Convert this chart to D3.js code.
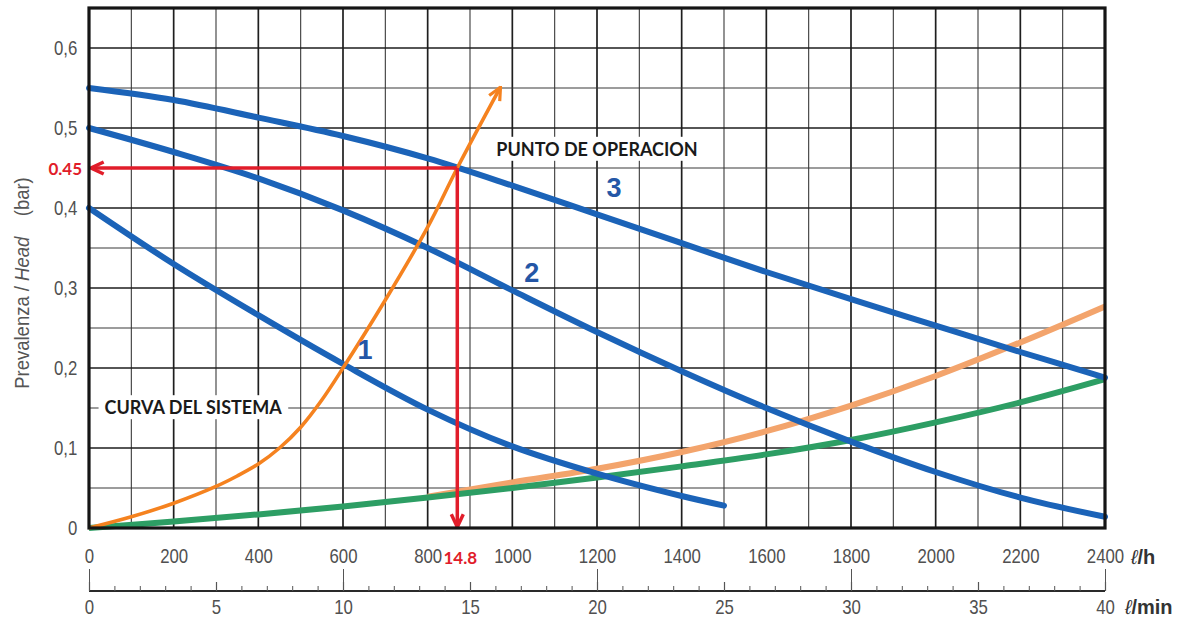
<!DOCTYPE html>
<html>
<head>
<meta charset="utf-8">
<script src="https://cdn.jsdelivr.net/npm/d3@7"></script>
<style>
  body { margin: 0; background: #fff; }
  svg { display: block; }
  .tick text { font-family: "Liberation Sans", Arial, sans-serif; fill: #505050; }
</style>
</head>
<body>
<div id="chart-area"></div>
<script>
// pump curves (flow in l/h, head in bar)
const pumpFlow = [0, 200, 400, 600, 800, 1000, 1200, 1400, 1600, 1800, 2000, 2200, 2400]
const pump3Head = [0.55, 0.535, 0.513, 0.49, 0.462, 0.428, 0.392, 0.356, 0.32, 0.286, 0.253, 0.22, 0.188]
const pump2Head = [0.5, 0.47, 0.437, 0.397, 0.35, 0.297, 0.245, 0.196, 0.15, 0.108, 0.07, 0.038, 0.014]
const greenHead = [0, 0.008, 0.017, 0.027, 0.038, 0.05, 0.063, 0.077, 0.092, 0.11, 0.132, 0.157, 0.186]

const pump1Flow = [0, 200, 400, 600, 800, 1000, 1200, 1400, 1500]
const pump1Head = [0.4, 0.33, 0.266, 0.205, 0.148, 0.102, 0.068, 0.04, 0.028]

const paleFlow = [800, 1000, 1200, 1400, 1600, 1800, 2000, 2200, 2400]
const paleHead = [0.039, 0.057, 0.074, 0.095, 0.121, 0.153, 0.19, 0.232, 0.277]

// system curve (orange, with arrow)
const sysFlow = [0, 100, 200, 300, 350, 400, 450, 500, 550, 600, 700, 800, 870, 972]
const sysHead = [0, 0.014, 0.031, 0.052, 0.065, 0.08, 0.1, 0.126, 0.16, 0.2, 0.285, 0.376, 0.45, 0.551]

// operating point
const opFlow = 870
const opHead = 0.45
const opHeadLabel = "0.45"
const opFlowLabel = "14.8"

const flowTicks = d3.range(0, 2401, 200)
const minTicks = d3.range(0, 41, 5)
const headTicks = [0, 0.1, 0.2, 0.3, 0.4, 0.5, 0.6]
const curveNames = ["1", "2", "3"]

const BLUE = "#1b63b8"
const ORANGE = "#f5821f"
const PALE = "#f3a46c"
const GREEN = "#2d9e64"
const RED = "#e11d2a"

const svg = d3.select("#chart-area").append("svg")
    .attr("width", 1185)
    .attr("height", 624)

const x = d3.scaleLinear().domain([0, 2400]).range([89, 1105])
const xMin = d3.scaleLinear().domain([0, 40]).range([89, 1105])
const y = d3.scaleLinear().domain([0, 0.65]).range([528, 8])

// markers
const defs = svg.append("defs")
function marker(id, color, size, sw) {
    defs.append("marker")
        .attr("id", id)
        .attr("viewBox", "0 0 12 12")
        .attr("refX", 11).attr("refY", 6)
        .attr("markerWidth", size).attr("markerHeight", size)
        .attr("markerUnits", "userSpaceOnUse")
        .attr("orient", "auto")
        .append("path")
        .attr("d", "M1.5,1.5 L11,6 L1.5,10.5")
        .attr("fill", "none")
        .attr("stroke", color)
        .attr("stroke-width", sw)
}
marker("arrRed", RED, 16, 2.6)
marker("arrOrange", ORANGE, 16, 2.4)

// grid
const grid = svg.append("g")
grid.selectAll("line.v")
    .data(d3.range(100, 2400, 100))
    .enter().append("line")
    .attr("x1", d => x(d)).attr("x2", d => x(d))
    .attr("y1", y(0.65)).attr("y2", y(0))
    .attr("stroke", d => d % 200 === 0 ? "#1e1e1e" : "#3a3a3a")
    .attr("stroke-width", d => d % 200 === 0 ? 1.7 : 1.1)
grid.selectAll("line.h")
    .data(d3.range(1, 13).map(i => i * 0.05))
    .enter().append("line")
    .attr("x1", x(0)).attr("x2", x(2400))
    .attr("y1", d => y(d)).attr("y2", d => y(d))
    .attr("stroke", (d, i) => i % 2 === 1 ? "#1e1e1e" : "#3a3a3a")
    .attr("stroke-width", (d, i) => i % 2 === 1 ? 1.7 : 1.1)

// text boxes that hide the grid
function label(txt, fx, hy, size) {
    const t = svg.append("text")
        .attr("x", x(fx)).attr("y", y(hy))
        .attr("text-anchor", "middle")
        .attr("dominant-baseline", "central")
        .attr("font-family", "Lato, 'Open Sans', sans-serif")
        .attr("font-weight", "bold")
        .attr("font-size", size)
        .attr("fill", "#1a1a1a")
        .text(txt)
    const b = t.node().getBBox()
    svg.insert("rect", "text")
        .attr("x", b.x - 6).attr("y", b.y - 1)
        .attr("width", b.width + 12).attr("height", b.height + 2)
        .attr("fill", "#fff")
}
label("PUNTO DE OPERACION", 1200, 0.474, 18)
label("CURVA DEL SISTEMA", 246, 0.151, 18)

// curves
const line = d3.line().curve(d3.curveCatmullRom.alpha(0.5))
const pts = (fs, hs) => fs.map((f, i) => [x(f), y(hs[i])])

svg.append("path")
    .attr("d", line(pts(paleFlow, paleHead)))
    .attr("fill", "none").attr("stroke", PALE).attr("stroke-width", 6)
svg.append("path")
    .attr("d", line(pts(pumpFlow, greenHead)))
    .attr("fill", "none").attr("stroke", GREEN).attr("stroke-width", 6)

const blues = [pts(pump1Flow, pump1Head), pts(pumpFlow, pump2Head), pts(pumpFlow, pump3Head)]
svg.selectAll("path.pump")
    .data(blues)
    .enter().append("path")
    .attr("class", "pump")
    .attr("d", d => line(d))
    .attr("fill", "none")
    .attr("stroke", BLUE)
    .attr("stroke-width", 6)
    .attr("stroke-linecap", "round")

svg.append("path")
    .attr("d", line(pts(sysFlow, sysHead)))
    .attr("fill", "none").attr("stroke", ORANGE).attr("stroke-width", 3.6)
    .attr("marker-end", "url(#arrOrange)")

// curve numbers
const numPos = [[652, 0.222], [1046, 0.319], [1240, 0.425]]
svg.selectAll("text.num")
    .data(curveNames)
    .enter().append("text")
    .attr("x", (d, i) => x(numPos[i][0]))
    .attr("y", (d, i) => y(numPos[i][1]))
    .attr("text-anchor", "middle")
    .attr("dominant-baseline", "central")
    .attr("font-family", "'Liberation Sans', Arial, sans-serif")
    .attr("font-weight", "bold")
    .attr("font-size", 27)
    .attr("fill", "#2456a6")
    .text(d => d)

// operating point lines
svg.append("path")
    .attr("d", `M${x(opFlow)},${y(opHead)} L${x(0) + 2},${y(opHead)}`)
    .attr("stroke", RED).attr("stroke-width", 3.5).attr("fill", "none")
    .attr("marker-end", "url(#arrRed)")
svg.append("path")
    .attr("d", `M${x(opFlow)},${y(opHead)} L${x(opFlow)},${y(0) - 1}`)
    .attr("stroke", RED).attr("stroke-width", 3.5).attr("fill", "none")
    .attr("marker-end", "url(#arrRed)")

// frame
svg.append("rect")
    .attr("x", x(0)).attr("y", y(0.65))
    .attr("width", x(2400) - x(0)).attr("height", y(0) - y(0.65))
    .attr("fill", "none").attr("stroke", "#151515").attr("stroke-width", 3.2)

// axes (condensed look: squeeze the glyphs horizontally)
const squeeze = "scale(0.84,1)"
const fmtHead = d => d === 0 ? "0" : d3.format(".1f")(d).replace(".", ",")
const yAxis = svg.append("g")
    .attr("transform", `translate(${x(0)}, 0)`)
    .call(d3.axisLeft(y).tickValues(headTicks).tickSize(0).tickPadding(14).tickFormat(fmtHead))
yAxis.select(".domain").remove()
yAxis.selectAll("text").attr("font-size", 20).attr("transform", squeeze)

const xAxis = svg.append("g")
    .attr("transform", `translate(0, ${y(0)})`)
    .call(d3.axisBottom(x).tickValues(flowTicks).tickSize(0).tickPadding(21).tickFormat(d3.format("d")))
xAxis.select(".domain").remove()
xAxis.selectAll("text").attr("font-size", 20).attr("transform", squeeze)

// l/min scale
const minY = 591
svg.append("line")
    .attr("x1", xMin(0)).attr("x2", xMin(40))
    .attr("y1", minY).attr("y2", minY)
    .attr("stroke", "#2a2a2a").attr("stroke-width", 2)
const tickStyle = (g, w) => {
    g.select(".domain").remove()
    g.selectAll("line").attr("stroke", "#555").attr("stroke-width", w)
}
svg.append("g").attr("transform", `translate(0, ${minY})`)
    .call(d3.axisTop(xMin).tickValues(d3.range(0, 41)).tickSize(5).tickFormat(""))
    .call(g => tickStyle(g, 1))
svg.append("g").attr("transform", `translate(0, ${minY})`)
    .call(d3.axisTop(xMin).tickValues(minTicks).tickSize(9).tickFormat(""))
    .call(g => tickStyle(g, 1.2))
svg.append("g").attr("transform", `translate(0, ${minY})`)
    .call(d3.axisTop(xMin).tickValues(d3.range(0, 41, 10)).tickSize(22).tickFormat(""))
    .call(g => tickStyle(g, 1))
const minAxis = svg.append("g")
    .attr("transform", `translate(0, ${minY})`)
    .call(d3.axisBottom(xMin).tickValues(minTicks).tickSize(0).tickPadding(9))
minAxis.select(".domain").remove()
minAxis.selectAll("text").attr("font-size", 20).attr("transform", squeeze)

// unit labels
function unit(txt, px, py) {
    const t = svg.append("text")
        .attr("x", px).attr("y", py)
        .attr("dominant-baseline", "central")
        .attr("font-family", "'Liberation Sans', Arial, sans-serif")
        .attr("font-size", 20).attr("fill", "#333")
    t.append("tspan").attr("font-style", "italic").text("ℓ")
    t.append("tspan").attr("font-weight", "bold").text("/" + txt)
}
unit("h", 1131, 557)
unit("min", 1125, 607)

// y title
const yt = svg.append("text")
    .attr("transform", `translate(22, 283) rotate(-90) scale(0.88,1)`)
    .attr("text-anchor", "middle")
    .attr("dominant-baseline", "central")
    .attr("font-family", "'Liberation Sans', Arial, sans-serif")
    .attr("font-size", 21)
    .attr("fill", "#555")
yt.append("tspan").text("Prevalenza / ")
yt.append("tspan").attr("font-style", "italic").text("Head")
yt.append("tspan").text("\u00a0\u00a0\u00a0\u00a0(bar)")

// red value labels
svg.append("text")
    .attr("x", 82).attr("y", y(opHead))
    .attr("text-anchor", "end").attr("dominant-baseline", "central")
    .attr("font-family", "Lato, 'Open Sans', sans-serif")
    .attr("font-weight", "bold").attr("font-size", 17)
    .attr("fill", RED)
    .text(opHeadLabel)
svg.append("text")
    .attr("x", x(opFlow) + 3).attr("y", 557)
    .attr("text-anchor", "middle").attr("dominant-baseline", "central")
    .attr("font-family", "Lato, 'Open Sans', sans-serif")
    .attr("font-weight", "bold").attr("font-size", 17)
    .attr("fill", RED)
    .text(opFlowLabel)
</script>
</body>
</html>
